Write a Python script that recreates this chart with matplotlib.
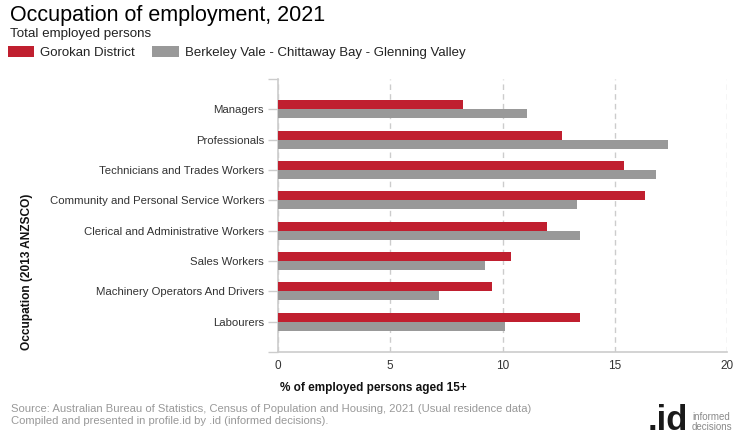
import matplotlib
matplotlib.use("Agg")
import matplotlib.pyplot as plt
import numpy as np

categories = ["Managers", "Professionals", "Technicians and Trades Workers",
              "Community and Personal Service Workers", "Clerical and Administrative Workers",
              "Sales Workers", "Machinery Operators And Drivers", "Labourers"]
gorokan = [8.26, 12.63, 15.39, 16.33, 11.96, 10.40, 9.55, 13.43]
berkeley = [11.07, 17.39, 16.82, 13.30, 13.43, 9.20, 7.15, 10.13]
series_names = ["Gorokan District", "Berkeley Vale - Chittaway Bay - Glenning Valley"]
xticks = [0, 5, 10, 15, 20]

RED = "#C01F2F"
GRAY = "#999999"

plt.rcParams['font.family'] = ['Liberation Sans', 'DejaVu Sans']

fig = plt.figure(figsize=(7.4, 4.4), dpi=100)
ax = fig.add_axes([278/740, 1-352/440, (727-278)/740, (352-79)/440])

pos = np.arange(1, len(categories) + 1)
h = 0.3
b1 = ax.barh(pos - h/2, gorokan, height=h, color=RED, label=series_names[0], zorder=3)
b2 = ax.barh(pos + h/2, berkeley, height=h, color=GRAY, label=series_names[1], zorder=3)

ax.set_ylim(len(categories) + 1, 0)
ax.set_xlim(0, 20)
ax.set_yticks(np.arange(0, len(categories) + 2))
ax.set_yticklabels([""] + categories + [""])
ax.set_xticks(xticks)
ax.set_xticklabels([str(t) for t in xticks])

ax.tick_params(axis='y', length=7, width=1, color="#cccccc", labelsize=8.2, labelcolor="#333333", pad=3)
ax.tick_params(axis='x', length=0, labelsize=8.5, labelcolor="#333333", pad=6)

for s in ["top", "right"]:
    ax.spines[s].set_visible(False)
for s in ["left", "bottom"]:
    ax.spines[s].set_color("#cccccc")
    ax.spines[s].set_linewidth(1.2)

ax.grid(axis='x', color="#cccccc", linestyle=(0, (4, 3)), linewidth=1, zorder=0)
ax.set_axisbelow(True)

fig.text(10/740, 1-15/440, "Occupation of employment, 2021", fontsize=15.5, color="#000000", ha="left", va="center")
fig.text(10/740, 1-34/440, "Total employed persons", fontsize=9.6, color="#222222", ha="left", va="center")

fig.legend(handles=[b1, b2], labels=series_names, loc="upper left",
           bbox_to_anchor=(8/740, 1-46/440), ncol=2, frameon=False, fontsize=9.5,
           handlelength=2.0, handleheight=0.85, handletextpad=0.45, columnspacing=1.3,
           borderpad=0, borderaxespad=0, labelcolor="#222222")

fig.text(27/740, 1-272/440, "Occupation (2013 ANZSCO)", rotation=90, fontsize=8.6, fontweight="bold",
         ha="center", va="center", color="#111111")
fig.text(280/740, 1-388/440, "% of employed persons aged 15+", fontsize=8.5, fontweight="bold",
         ha="left", va="center", color="#111111")

fig.text(11/740, 1-409/440, "Source: Australian Bureau of Statistics, Census of Population and Housing, 2021 (Usual residence data)",
         fontsize=8.15, color="#999999", ha="left", va="center")
fig.text(11/740, 1-421/440, "Compiled and presented in profile.id by .id (informed decisions).",
         fontsize=8.15, color="#999999", ha="left", va="center")

fig.text(688/740, 1-430/440, ".id", fontsize=25, fontweight="bold", color="#1a1a1a", ha="right", va="baseline")
fig.text(692/740, 1-417/440, "informed", fontsize=7, color="#8a8a8a", ha="left", va="center")
fig.text(692/740, 1-427/440, "decisions", fontsize=7, color="#8a8a8a", ha="left", va="center")

fig.savefig("out.png", dpi=100)
